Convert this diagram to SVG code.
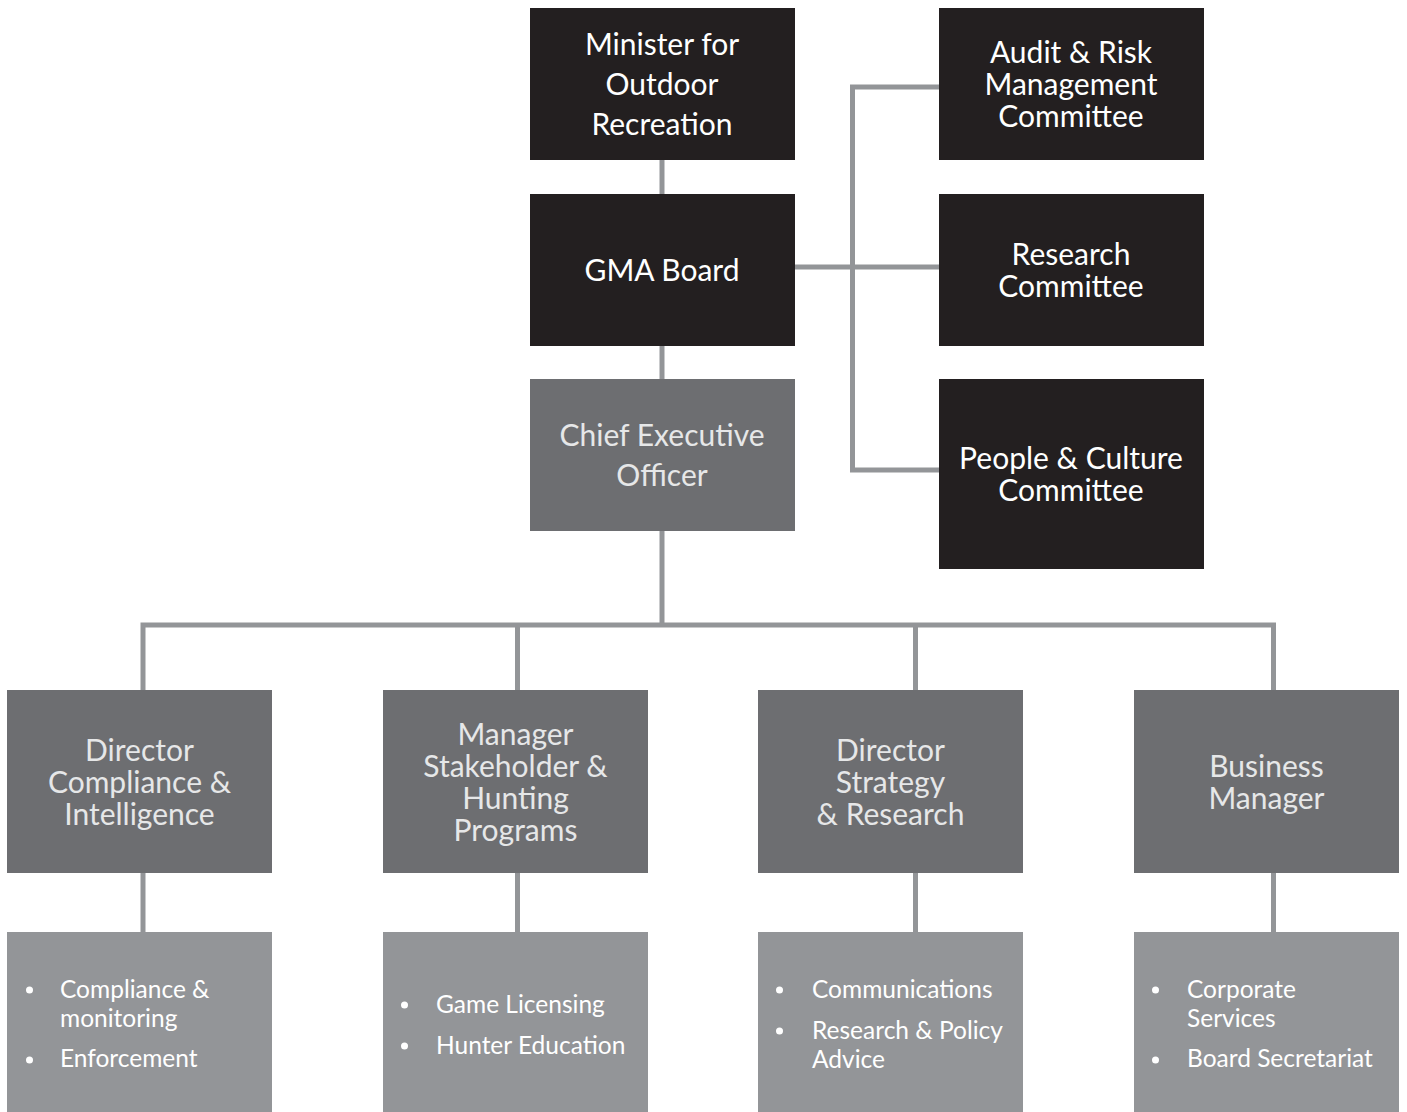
<svg xmlns="http://www.w3.org/2000/svg" width="1407" height="1112" viewBox="0 0 1407 1112">
<style>
.dark{fill:#231f20}
.mid{fill:#6d6e71}
.light{fill:#939598}
text{font-family:Lato,"Open Sans","Liberation Sans",sans-serif;text-anchor:middle}
.t1{font-size:30px;fill:#ffffff}
.t2{font-size:30px;fill:#e6e7e8}
.t3{font-size:24.5px;fill:#ffffff;text-anchor:start}
.b{fill:#ffffff}
.conn{fill:none;stroke:#939598;stroke-width:5}
</style>
<rect width="1407" height="1112" fill="#ffffff"/>
<g id="connectors">
<line class="conn" x1="662" y1="160" x2="662" y2="194"/>
<line class="conn" x1="662" y1="346" x2="662" y2="379"/>
<line class="conn" x1="795" y1="267" x2="939" y2="267"/>
<polyline class="conn" points="939,87 852.5,87 852.5,470 939,470"/>
<line class="conn" x1="662" y1="531" x2="662" y2="625"/>
<polyline class="conn" points="143,690 143,625 1273.5,625 1273.5,690"/>
<line class="conn" x1="517.5" y1="625" x2="517.5" y2="690"/>
<line class="conn" x1="915.5" y1="625" x2="915.5" y2="690"/>
<line class="conn" x1="143" y1="873" x2="143" y2="932"/>
<line class="conn" x1="517.5" y1="873" x2="517.5" y2="932"/>
<line class="conn" x1="915.5" y1="873" x2="915.5" y2="932"/>
<line class="conn" x1="1273.5" y1="873" x2="1273.5" y2="932"/>
</g>
<g id="minister">
<rect class="dark" x="530" y="8" width="265" height="152"/>
<text class="t1" x="662" y="55">Minister for</text>
<text class="t1" x="662" y="95">Outdoor</text>
<text class="t1" x="662" y="135">Recreation</text>
</g>
<g id="gma-board">
<rect class="dark" x="530" y="194" width="265" height="152"/>
<text class="t1" x="662" y="281">GMA Board</text>
</g>
<g id="ceo">
<rect class="mid" x="530" y="379" width="265" height="152"/>
<text class="t2" x="662" y="446">Chief Executive</text>
<text class="t2" x="662" y="486">Officer</text>
</g>
<g id="audit">
<rect class="dark" x="939" y="8" width="265" height="152"/>
<text class="t1" x="1071" y="63">Audit &amp; Risk</text>
<text class="t1" x="1071" y="95">Management</text>
<text class="t1" x="1071" y="127">Committee</text>
</g>
<g id="research-committee">
<rect class="dark" x="939" y="194" width="265" height="152"/>
<text class="t1" x="1071" y="265">Research</text>
<text class="t1" x="1071" y="297">Committee</text>
</g>
<g id="people-culture">
<rect class="dark" x="939" y="379" width="265" height="190"/>
<text class="t1" x="1071" y="469">People &amp; Culture</text>
<text class="t1" x="1071" y="501">Committee</text>
</g>
<g id="dir-compliance">
<rect class="mid" x="7" y="690" width="265" height="183"/>
<text class="t2" x="139.5" y="761">Director</text>
<text class="t2" x="139.5" y="793">Compliance &amp;</text>
<text class="t2" x="139.5" y="825">Intelligence</text>
</g>
<g id="mgr-stakeholder">
<rect class="mid" x="383" y="690" width="265" height="183"/>
<text class="t2" x="515.5" y="745">Manager</text>
<text class="t2" x="515.5" y="777">Stakeholder &amp;</text>
<text class="t2" x="515.5" y="809">Hunting</text>
<text class="t2" x="515.5" y="841">Programs</text>
</g>
<g id="dir-strategy">
<rect class="mid" x="758" y="690" width="265" height="183"/>
<text class="t2" x="890.5" y="761">Director</text>
<text class="t2" x="890.5" y="793">Strategy</text>
<text class="t2" x="890.5" y="825">&amp; Research</text>
</g>
<g id="business-manager">
<rect class="mid" x="1134" y="690" width="265" height="183"/>
<text class="t2" x="1266.5" y="777">Business</text>
<text class="t2" x="1266.5" y="809">Manager</text>
</g>
<g id="compliance-functions">
<rect class="light" x="7" y="932" width="265" height="180"/>
<circle class="b" cx="29.5" cy="990" r="3.5"/>
<circle class="b" cx="29.5" cy="1060" r="3.5"/>
<text class="t3" x="60" y="998">Compliance &amp;</text>
<text class="t3" x="60" y="1027">monitoring</text>
<text class="t3" x="60" y="1067">Enforcement</text>
</g>
<g id="stakeholder-functions">
<rect class="light" x="383" y="932" width="265" height="180"/>
<circle class="b" cx="404.5" cy="1005" r="3.5"/>
<circle class="b" cx="404.5" cy="1046" r="3.5"/>
<text class="t3" x="436" y="1013">Game Licensing</text>
<text class="t3" x="436" y="1054">Hunter Education</text>
</g>
<g id="strategy-functions">
<rect class="light" x="758" y="932" width="265" height="180"/>
<circle class="b" cx="779.5" cy="990" r="3.5"/>
<circle class="b" cx="779.5" cy="1031" r="3.5"/>
<text class="t3" x="812" y="998">Communications</text>
<text class="t3" x="812" y="1039">Research &amp; Policy</text>
<text class="t3" x="812" y="1068">Advice</text>
</g>
<g id="business-functions">
<rect class="light" x="1134" y="932" width="265" height="180"/>
<circle class="b" cx="1155.5" cy="990" r="3.5"/>
<circle class="b" cx="1155.5" cy="1060" r="3.5"/>
<text class="t3" x="1187" y="998">Corporate</text>
<text class="t3" x="1187" y="1027">Services</text>
<text class="t3" x="1187" y="1067">Board Secretariat</text>
</g>
</svg>
